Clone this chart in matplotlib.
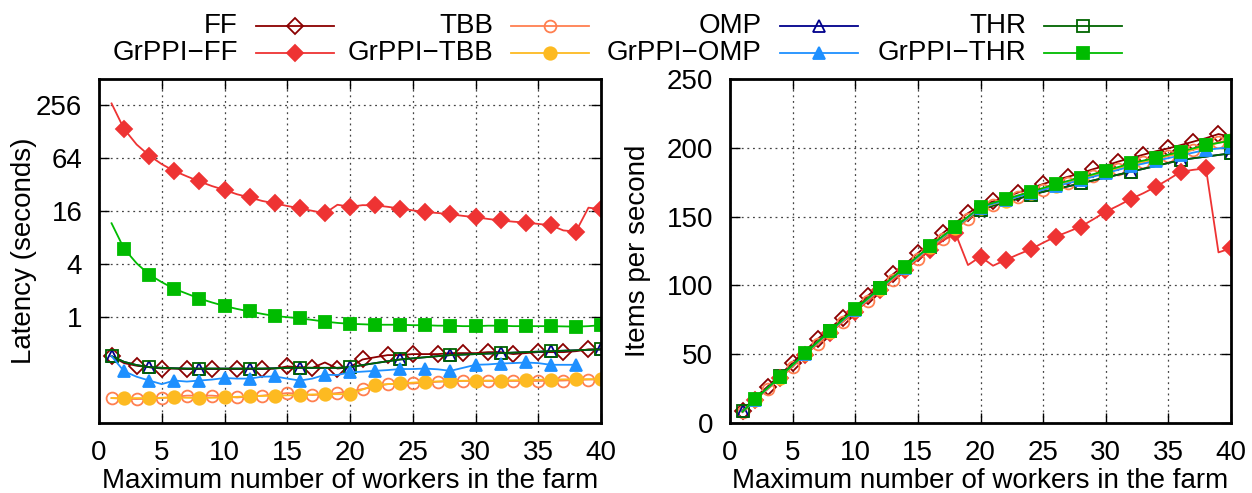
import numpy as np
import matplotlib.pyplot as plt
from matplotlib.lines import Line2D
from matplotlib.ticker import FixedLocator, NullLocator

plt.rcParams['font.family'] = ['Liberation Sans', 'DejaVu Sans']

workers = list(range(1, 41))

# latency (seconds), left panel
lat_ff = [0.36, 0.30, 0.28, 0.27, 0.26, 0.26, 0.257, 0.257, 0.257, 0.257,
          0.257, 0.257, 0.257, 0.26, 0.275, 0.27, 0.265, 0.305, 0.26, 0.27,
          0.33, 0.35, 0.37, 0.37, 0.38, 0.38, 0.38, 0.39, 0.39, 0.39,
          0.40, 0.40, 0.38, 0.39, 0.40, 0.40, 0.40, 0.41, 0.43, 0.43]
lat_grppi_ff = [270, 138, 92, 69, 55, 46, 40, 35, 31, 28,
                25, 23, 21, 19.7, 18.4, 17.3, 16.2, 15.2, 19, 18,
                18.8, 18.7, 18, 17.2, 16.4, 15.7, 15.3, 14.8, 14.2, 13.7,
                13.1, 12.6, 12.2, 11.9, 11.5, 11.1, 9.7, 9.4, 17.6, 16.9]
lat_tbb = [0.12, 0.118, 0.117, 0.118, 0.12, 0.124, 0.128, 0.128, 0.128, 0.125,
           0.122, 0.125, 0.128, 0.132, 0.137, 0.134, 0.13, 0.133, 0.137, 0.143,
           0.152, 0.163, 0.173, 0.175, 0.176, 0.18, 0.184, 0.186, 0.188, 0.188,
           0.188, 0.188, 0.188, 0.188, 0.188, 0.189, 0.19, 0.193, 0.195, 0.196]
lat_grppi_tbb = [0.12, 0.12, 0.12, 0.12, 0.121, 0.122, 0.121, 0.12, 0.121, 0.122,
                 0.124, 0.126, 0.127, 0.128, 0.129, 0.13, 0.132, 0.133, 0.133, 0.133,
                 0.15, 0.169, 0.173, 0.176, 0.18, 0.184, 0.186, 0.188, 0.189, 0.19,
                 0.19, 0.19, 0.191, 0.192, 0.194, 0.195, 0.196, 0.197, 0.197, 0.197]
lat_omp = [0.36, 0.31, 0.285, 0.27, 0.265, 0.262, 0.26, 0.26, 0.26, 0.26,
           0.26, 0.26, 0.26, 0.262, 0.265, 0.265, 0.265, 0.265, 0.265, 0.27,
           0.285, 0.30, 0.315, 0.33, 0.34, 0.35, 0.36, 0.37, 0.375, 0.38,
           0.385, 0.39, 0.395, 0.40, 0.405, 0.41, 0.415, 0.42, 0.425, 0.43]
lat_grppi_omp = [0.36, 0.242, 0.21, 0.19, 0.173, 0.19, 0.185, 0.19, 0.195, 0.203,
                 0.2, 0.2, 0.21, 0.212, 0.2, 0.19, 0.2, 0.221, 0.22, 0.235,
                 0.24, 0.245, 0.25, 0.257, 0.257, 0.26, 0.255, 0.245, 0.265, 0.287,
                 0.29, 0.297, 0.3, 0.305, 0.3, 0.287, 0.287, 0.287]
lat_thr = [0.36, 0.31, 0.285, 0.27, 0.265, 0.262, 0.26, 0.26, 0.26, 0.26,
           0.26, 0.26, 0.26, 0.262, 0.265, 0.265, 0.265, 0.265, 0.265, 0.27,
           0.285, 0.30, 0.315, 0.33, 0.34, 0.35, 0.36, 0.37, 0.375, 0.38,
           0.385, 0.39, 0.395, 0.40, 0.405, 0.41, 0.415, 0.42, 0.425, 0.43]
lat_grppi_thr = [11.7, 6.0, 4.1, 3.05, 2.5, 2.1, 1.85, 1.63, 1.47, 1.34,
                 1.24, 1.16, 1.09, 1.03, 1.0, 0.97, 0.93, 0.89, 0.86, 0.84,
                 0.83, 0.82, 0.82, 0.82, 0.81, 0.81, 0.80, 0.80, 0.79, 0.79,
                 0.80, 0.80, 0.79, 0.79, 0.79, 0.79, 0.785, 0.78, 0.79, 0.81]

# throughput (items per second), right panel
thr_ff = [9, 18.5, 26.5, 35, 43.8, 52.5, 61, 69, 76.5, 84.5,
          92.5, 100, 108, 115.5, 123.5, 131, 138, 145.5, 152.5, 158,
          161, 164, 167.5, 170.5, 173.7, 176.5, 179, 181.5, 184.5, 187,
          190, 192.5, 195, 197.5, 199.6, 202, 204.5, 207, 210, 208]
thr_grppi_ff = [8, 16.8, 24.8, 32.8, 41, 49.5, 57.5, 65.5, 73.5, 81,
                88.5, 96.5, 104, 111.5, 119, 126, 132.5, 137.9, 114.8, 120.9,
                114.3, 118.5, 122.5, 126.2, 131, 135.4, 139, 142.7, 148, 153.6,
                158, 162.8, 167, 171.7, 177, 182.6, 184, 185.1, 124, 127]
thr_tbb = [8, 16.5, 24.5, 32.5, 41, 49.5, 57.5, 65.5, 73.5, 81,
           89, 96.5, 104, 111.5, 119, 126.5, 133.5, 140.5, 148, 155,
           158.5, 161, 164, 166.5, 169.5, 172, 174.5, 177, 179.5, 182,
           184.5, 187, 189.5, 191.5, 194, 196, 198.5, 201, 204, 206]
thr_grppi_tbb = [8.1, 16.8, 25, 33, 41.5, 50, 58, 66.3, 74, 82,
                 89.5, 97.5, 105, 112.5, 120, 127.8, 135, 141.8, 149, 156,
                 159, 161.6, 164.5, 167.2, 170, 172.6, 175.2, 177.5, 180, 182.6,
                 185.2, 187.8, 190, 192, 194.5, 196.6, 199, 201.5, 203.5, 205.7]
thr_omp = [8.5, 17, 25.5, 34, 42.5, 51, 59, 67, 75, 83,
           90.5, 98, 105.5, 113, 120.5, 128, 135, 142, 149, 155,
           158, 160.5, 163, 165.7, 168, 170, 172, 174.2, 176.3, 178.4,
           180.5, 182.6, 184.7, 186.8, 189, 191.1, 192.4, 193.6, 194.8, 196]
thr_grppi_omp = [8.3, 17, 25.2, 33.5, 42, 50.3, 58.6, 66.6, 74.5, 82.3,
                 90, 97.8, 105.5, 113, 120.7, 128.3, 135.5, 142.2, 149.4, 156.5,
                 159.3, 161.8, 164.5, 167, 169.5, 172, 174.3, 176.5, 179, 181.5,
                 184, 186.5, 188.5, 190.5, 192.5, 194.5, 196.5, 198.5, 199.5, 200.5]
thr_thr = [8.5, 17, 25.5, 34, 42.5, 51, 59, 67, 75, 83,
           90.5, 98, 105.5, 113, 120.5, 128, 135, 142, 149, 155,
           158, 160.5, 163, 165.7, 168, 170, 172, 174.2, 176.3, 178.4,
           180.5, 182.6, 184.7, 186.8, 189, 191.1, 192.4, 193.6, 194.8, 196]
thr_grppi_thr = [8.2, 17.2, 25.5, 33.7, 42.2, 50.6, 59, 67.1, 75, 82.8,
                 90.5, 98.3, 106, 113.6, 121.3, 128.9, 136, 142.7, 150, 157.2,
                 160, 162.6, 165.4, 168.1, 170.8, 173.5, 176, 178.3, 180.8, 183.4,
                 186, 188.7, 190.7, 192.6, 195, 197.2, 199.6, 202, 203.6, 205.2]

odd_x = list(range(0, 40, 2))
even_x = list(range(1, 40, 2))
every4 = [0] + list(range(3, 40, 4))

series = [
    # name, left data, right data, color, marker, filled, markevery, ms
    ('FF', lat_ff, thr_ff, '#8B0000', 'D', False, odd_x, 8),
    ('TBB', lat_tbb, thr_tbb, '#FF7F50', 'o', False, odd_x, 8.5),
    ('OMP', lat_omp, thr_omp, '#00008B', '^', False, every4, 9),
    ('THR', lat_thr, thr_thr, '#006400', 's', False, every4, 8),
    ('GrPPI\u2212FF', lat_grppi_ff, thr_grppi_ff, '#EE3333', 'D', True, even_x, 8),
    ('GrPPI\u2212TBB', lat_grppi_tbb, thr_grppi_tbb, '#FDBA21', 'o', True, even_x, 9),
    ('GrPPI\u2212OMP', lat_grppi_omp, thr_grppi_omp, '#1E90FF', '^', True, even_x, 9),
    ('GrPPI\u2212THR', lat_grppi_thr, thr_grppi_thr, '#00BB00', 's', True, even_x, 9),
]

FS = 20
W, H = 1252, 493
fig = plt.figure(figsize=(W / 100, H / 100), dpi=100)

def px_box(x0, x1, y0, y1):
    return [x0 / W, 1 - y1 / H, (x1 - x0) / W, (y1 - y0) / H]

ax1 = fig.add_axes(px_box(99, 601, 79, 423))
ax2 = fig.add_axes(px_box(730, 1231, 79, 423))

for name, left, right, color, mk, filled, mev, ms in series:
    fc = color if filled else 'none'
    for ax, vals in ((ax1, left), (ax2, right)):
        xs = workers[:len(vals)]
        me = [i for i in mev if i < len(vals)]
        ax.plot(xs, vals, color=color, lw=1.3, marker=mk, ms=ms,
                markerfacecolor=fc, markeredgecolor=color, markeredgewidth=1.3,
                markevery=me)

grid_kw = dict(color='#444444', ls=(0, (1.5, 3)), lw=0.9)

ax1.set_yscale('log', base=2)
ax1.set_ylim(1 / 16, 512)
ax1.set_xlim(0, 40)
ax1.yaxis.set_major_locator(FixedLocator([1, 4, 16, 64, 256]))
ax1.yaxis.set_minor_locator(NullLocator())
ax1.set_yticklabels(['1', '4', '16', '64', '256'])
ax1.set_ylabel('Latency (seconds)', fontsize=FS, va='center')
ax1.yaxis.set_label_coords(-0.150, 0.5)

ax2.set_ylim(0, 250)
ax2.set_xlim(0, 40)
ax2.set_yticks([0, 50, 100, 150, 200, 250])
ax2.set_ylabel('Items per second', fontsize=FS, va='center')
ax2.yaxis.set_label_coords(-0.183, 0.5)

for ax in (ax1, ax2):
    ax.set_xticks(range(0, 41, 5))
    ax.grid(True, **grid_kw)
    ax.set_axisbelow(True)
    ax.tick_params(direction='in', top=True, right=True, length=7, width=1,
                   labelsize=FS, pad=12)
    ax.set_xlabel('Maximum number of workers in the farm', fontsize=FS, labelpad=2)
    for sp in ax.spines.values():
        sp.set_linewidth(2)

# gnuplot-style key: text right aligned before the sample
cols_text_right = [238, 493, 762, 1026]
rows_y = [26, 53]
for k, (name, left, right, color, mk, filled, mev, ms) in enumerate(series):
    col, row = k % 4, k // 4
    xr = cols_text_right[col]
    y = 1 - rows_y[row] / H
    fig.text(xr / W, y, name, ha='right', va='center', fontsize=FS)
    x0, x1 = (xr + 18) / W, (xr + 96) / W
    fig.add_artist(Line2D([x0, x1], [y, y], transform=fig.transFigure,
                          color=color, lw=1.3))
    fig.add_artist(Line2D([(x0 + x1) / 2], [y], transform=fig.transFigure,
                          color=color, marker=mk, ms=ms, lw=0,
                          markerfacecolor=color if filled else 'none',
                          markeredgecolor=color, markeredgewidth=1.3))

fig.savefig('out.png', dpi=100)
